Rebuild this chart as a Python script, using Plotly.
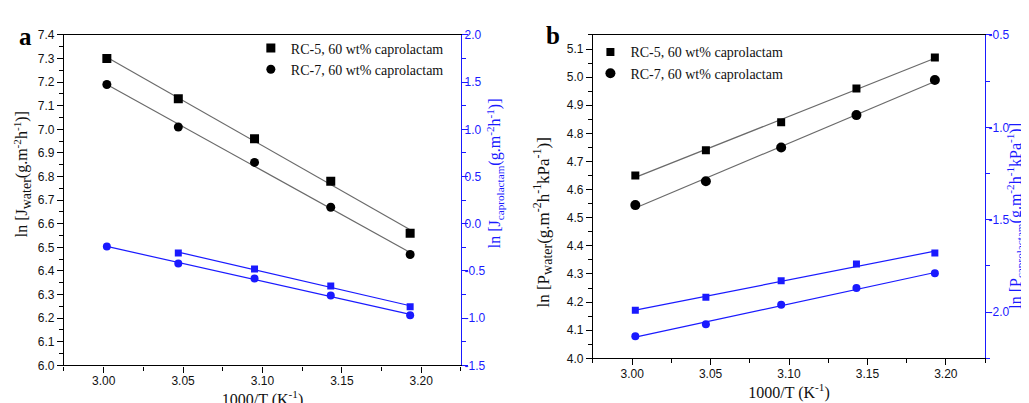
import numpy as np
import plotly.graph_objects as go

# ---------------- data ----------------
inv_T = [3.002, 3.047, 3.095, 3.143, 3.193]          # 1000/T (K^-1)

# panel a: fluxes
a_rc5_water = [7.30, 7.13, 6.96, 6.78, 6.56]
a_rc7_water = [7.19, 7.01, 6.86, 6.67, 6.47]
a_rc5_capro = [None, -0.31, -0.48, -0.66, -0.88]
a_rc7_capro = [-0.24, -0.42, -0.58, -0.76, -0.97]

# panel b: permeances
b_rc5_water = [4.65, 4.74, 4.84, 4.96, 5.07]
b_rc7_water = [4.545, 4.63, 4.75, 4.865, 4.99]
b_rc5_capro = [-1.99, -1.92, -1.83, -1.74, -1.68]
b_rc7_capro = [-2.13, -2.065, -1.96, -1.87, -1.79]

series_names = ["RC-5, 60 wt% caprolactam", "RC-7, 60 wt% caprolactam"]

x_ticks = [3.00, 3.05, 3.10, 3.15, 3.20]
x_ticktext = ["3.00", "3.05", "3.10", "3.15", "3.20"]
a_right_ticks = [-1.5, -1.0, -0.5, 0.0, 0.5, 1.0, 1.5, 2.0]
a_right_text = ["-1.5", "-1.0", "-0.5", "0.0", "0.5", "1.0", "1.5", "2.0"]
b_right_ticks = [-2.0, -1.5, -1.0, -0.5]
b_right_text = ["-2.0", "-1.5", "-1.0", "-0.5"]

# ---------------- styling ----------------
SERIF = "Liberation Serif, Times New Roman, serif"
SANS = "Liberation Sans, Arial, sans-serif"
BLUE = "#1a1aff"
LINE_GRAY = "#6a6a6a"
W, H = 1029, 403


def fit_line(xs, ys):
    pts = [(x, y) for x, y in zip(xs, ys) if y is not None]
    px = np.array([p[0] for p in pts])
    py = np.array([p[1] for p in pts])
    k, b = np.polyfit(px, py, 1)
    xe = [px.min(), px.max()]
    return xe, [k * xe[0] + b, k * xe[1] + b]


fig = go.Figure()


def add_series(xs, ys, xa, ya, color, lcolor, symbol, size, name=None, legend=None):
    fx, fy = fit_line(xs, ys)
    fig.add_trace(go.Scatter(x=fx, y=fy, mode="lines", xaxis=xa, yaxis=ya,
                             line=dict(color=lcolor, width=1.2), showlegend=False,
                             hoverinfo="skip"))
    fig.add_trace(go.Scatter(x=xs, y=ys, mode="markers", xaxis=xa, yaxis=ya,
                             marker=dict(color=color, symbol=symbol, size=size,
                                         line=dict(width=0)),
                             name=name, showlegend=name is not None,
                             legend=legend if legend else "legend"))


# panel a
add_series(inv_T, a_rc5_water, "x", "y", "black", LINE_GRAY, "square", 9, series_names[0], "legend")
add_series(inv_T, a_rc7_water, "x", "y", "black", LINE_GRAY, "circle", 9, series_names[1], "legend")
add_series(inv_T, a_rc5_capro, "x", "y2", BLUE, BLUE, "square", 7)
add_series(inv_T, a_rc7_capro, "x", "y2", BLUE, BLUE, "circle", 8)

# panel b
add_series(inv_T, b_rc5_water, "x2", "y3", "black", LINE_GRAY, "square", 8, series_names[0], "legend2")
add_series(inv_T, b_rc7_water, "x2", "y3", "black", LINE_GRAY, "circle", 10, series_names[1], "legend2")
add_series(inv_T, b_rc5_capro, "x2", "y4", BLUE, BLUE, "square", 7)
add_series(inv_T, b_rc7_capro, "x2", "y4", BLUE, BLUE, "circle", 8)

tickfont_k = dict(family=SANS, size=12, color="#111111")
tickfont_b = dict(family=SANS, size=12, color=BLUE)
titlefont_k = dict(family=SERIF, size=16, color="#111111")
titlefont_b = dict(family=SERIF, size=16, color=BLUE)


def xaxis_cfg(domain, anchor):
    return dict(domain=domain, anchor=anchor, range=[2.975, 3.225],
                tickmode="array", tickvals=x_ticks, ticktext=x_ticktext,
                ticks="outside", ticklen=6, tickwidth=1.2, tickcolor="black",
                ticklabelstandoff=-2,
                minor=dict(tickmode="linear", tick0=3.0, dtick=0.025, ticklen=4,
                           tickwidth=1.2, tickcolor="black", showgrid=False),
                showline=True, linecolor="black", linewidth=1.3, mirror=True,
                showgrid=False, zeroline=False, tickfont=tickfont_k,
                title=dict(text="1000/T (K<sup>-1</sup>)", font=titlefont_k, standoff=0))


def yleft_cfg(domain, anchor, rng):
    return dict(domain=domain, anchor=anchor, range=rng, tickmode="linear",
                tick0=rng[0], dtick=0.1, tickformat=".1f",
                ticks="outside", ticklen=6, tickwidth=1.2, tickcolor="black",
                minor=dict(tickmode="linear", tick0=rng[0], dtick=0.05, ticklen=4,
                           tickwidth=1.2, tickcolor="black", showgrid=False),
                showline=True, linecolor="black", linewidth=1.3,
                showgrid=False, zeroline=False, tickfont=tickfont_k)


def yright_cfg(overlay, anchor, rng, tv, tt):
    return dict(overlaying=overlay, anchor=anchor, side="right", range=rng,
                tickmode="array", tickvals=tv, ticktext=tt,
                ticks="outside", ticklen=6, tickwidth=1.2, tickcolor=BLUE,
                ticklabelstandoff=-6,
                minor=dict(tickmode="linear", tick0=-2.0, dtick=0.25, ticklen=4,
                           tickwidth=1.2, tickcolor=BLUE, showgrid=False),
                showline=True, linecolor=BLUE, linewidth=1.3,
                showgrid=False, zeroline=False, tickfont=tickfont_b)


def ytitle(text, px, py, font):
    return dict(text=text, x=px / W, y=1 - py / H, xref="paper", yref="paper",
                xanchor="center", yanchor="middle", textangle=-90, showarrow=False,
                font=font)


WATER = '<sub><span style="font-size:14px">water</span></sub>'

annotations = [
    dict(text="<b>a</b>", x=17.5 / W, y=1 - 22.5 / H, xref="paper", yref="paper",
         xanchor="center", yanchor="middle", showarrow=False,
         font=dict(family=SERIF, size=25, color="black")),
    dict(text="<b>b</b>", x=544.5 / W, y=1 - 21.5 / H, xref="paper", yref="paper",
         xanchor="center", yanchor="middle", showarrow=False,
         font=dict(family=SERIF, size=25, color="black")),
    ytitle("ln [J" + WATER + "(g.m<sup>-2</sup>h<sup>-1</sup>)]", 14, 165, titlefont_k),
    ytitle("ln [J<sub>caprolactam</sub>(g.m<sup>-2</sup>h<sup>-1</sup>)]", 487, 164, titlefont_b),
    ytitle("ln [P" + WATER + "(g.m<sup>-2</sup>h<sup>-1</sup>kPa<sup>-1</sup>)]", 535, 215,
           dict(family=SERIF, size=17, color="#111111")),
    ytitle("ln [P<sub>caprolactam</sub>(g.m<sup>-2</sup>h<sup>-1</sup>kPa<sup>-1</sup>)]", 1007, 208,
           dict(family=SERIF, size=16, color=BLUE)),
]

fig.update_layout(
    width=W, height=H,
    margin=dict(l=0, r=0, t=0, b=0),
    paper_bgcolor="white", plot_bgcolor="white",
    xaxis=xaxis_cfg([0.0544, 0.4402], "y"),
    yaxis=yleft_cfg([0.0993, 0.9486], "x", [6.0, 7.4]),
    yaxis2=yright_cfg("y", "x", [-1.5, 2.0], a_right_ticks, a_right_text),
    xaxis2=xaxis_cfg([0.5685, 0.9495], "y3"),
    yaxis3=yleft_cfg([0.1174, 0.9486], "x2", [4.0, 5.15]),
    yaxis4=yright_cfg("y3", "x2", [-2.25, -0.5], b_right_ticks, b_right_text),
    legend=dict(x=0.236, y=0.955, xanchor="left", yanchor="top",
                bgcolor="rgba(0,0,0,0)", font=dict(family=SERIF, size=14, color="#111111"),
                itemwidth=30, tracegroupgap=0),
    legend2=dict(x=0.566, y=0.945, xanchor="left", yanchor="top",
                 bgcolor="rgba(0,0,0,0)", font=dict(family=SERIF, size=14, color="#111111"),
                 itemwidth=30, tracegroupgap=0),
    annotations=annotations,
)

fig.write_html("out.html")
